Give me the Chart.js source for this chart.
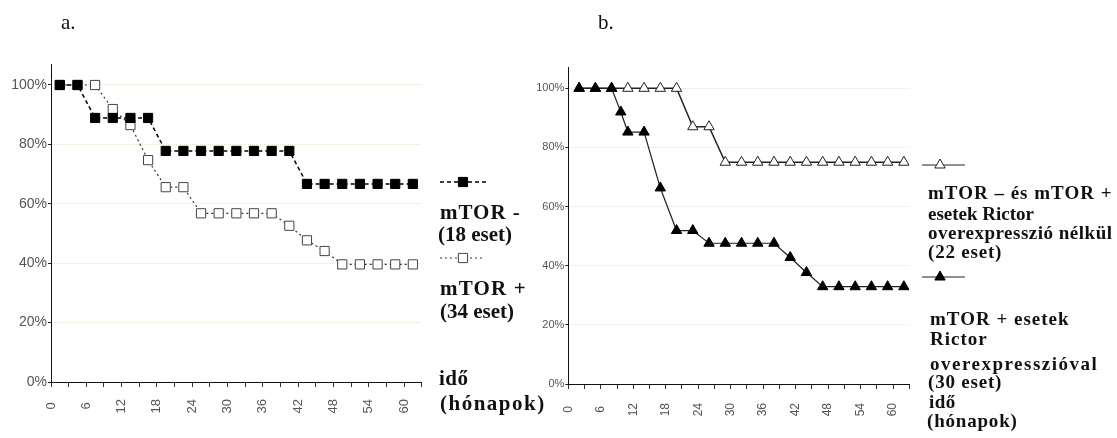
<!DOCTYPE html>
<html>
<head>
<meta charset="utf-8">
<script src="https://cdn.jsdelivr.net/npm/chart.js@4.4.1/dist/chart.umd.min.js"></script>
<style>
body { margin: 0; background: #fff; }
#wrap { position: relative; width: 1117px; height: 438px; overflow: hidden; font-family: "Liberation Serif", "Times New Roman", serif; color: #111; }
canvas { position: absolute; top: 0; }
.t { position: absolute; white-space: nowrap; line-height: 1; }
</style>
</head>
<body>
<div id="wrap">
  <canvas id="chartA" width="520" height="438" style="left:0"></canvas>
  <canvas id="chartB" width="597" height="438" style="left:520px"></canvas>
</div>
<script>
// --- adatok (a.) ---
const monthsA = [1.5, 4.5, 7.5, 10.5, 13.5, 16.5, 19.5, 22.5, 25.5, 28.5, 31.5, 34.5, 37.5, 40.5, 43.5, 46.5, 49.5, 52.5, 55.5, 58.5, 61.5];
const mtorNeg = [100, 100, 88.9, 88.9, 88.9, 88.9, 77.8, 77.8, 77.8, 77.8, 77.8, 77.8, 77.8, 77.8, 66.7, 66.7, 66.7, 66.7, 66.7, 66.7, 66.7];
const mtorPos = [100, 100, 100, 91.9, 86.5, 74.7, 65.6, 65.6, 56.8, 56.8, 56.8, 56.8, 56.8, 52.6, 47.7, 44.1, 39.6, 39.6, 39.6, 39.6, 39.6];

// --- adatok (b.) ---
const monthsNoRictor = [2, 5, 8, 11, 14, 17, 20, 23, 26, 29, 32, 35, 38, 41, 44, 47, 50, 53, 56, 59, 62];
const noRictor = [100, 100, 100, 100, 100, 100, 100, 87, 87, 75, 75, 75, 75, 75, 75, 75, 75, 75, 75, 75, 75];
const monthsRictor = [2, 5, 8, 9.7, 11, 14, 17, 20, 23, 26, 29, 32, 35, 38, 41, 44, 47, 50, 53, 56, 59, 62];
const rictor = [100, 100, 100, 92, 85.2, 85.2, 66.3, 51.9, 51.9, 47.6, 47.6, 47.6, 47.6, 47.6, 42.8, 37.7, 32.9, 32.9, 32.9, 32.9, 32.9, 32.9];

// tengelyek
const xTicks = [0, 3, 6, 9, 12, 15, 18, 21, 24, 27, 30, 33, 36, 39, 42, 45, 48, 51, 54, 57, 60, 63];
const yTicks = [0, 20, 40, 60, 80, 100];

const pts = (xs, ys) => xs.map((x, i) => ({ x: x, y: ys[i] }));

// jelmagyarazat mintak (vonal + jelolo)
function drawMarker(ctx, ds, x, y) {
    const r = ds.pointRadius;
    ctx.fillStyle = ds.pointBackgroundColor;
    ctx.strokeStyle = ds.pointBorderColor;
    ctx.lineWidth = ds.pointBorderWidth;
    ctx.beginPath();
    if (ds.pointStyle === 'rect') {
        const s = r * Math.SQRT1_2;
        ctx.rect(x - s, y - s, 2 * s, 2 * s);
    } else {
        let a = 0;
        ctx.moveTo(x + Math.sin(a) * r, y - Math.cos(a) * r);
        a += 2 * Math.PI / 3;
        ctx.lineTo(x + Math.sin(a) * r, y - Math.cos(a) * r);
        a += 2 * Math.PI / 3;
        ctx.lineTo(x + Math.sin(a) * r, y - Math.cos(a) * r);
        ctx.closePath();
    }
    ctx.fill();
    ctx.stroke();
}

const legendSamples = {
    id: 'legendSamples',
    afterDraw(chart, args, opts) {
        const ctx = chart.ctx;
        (opts.items || []).forEach(it => {
            const ds = chart.data.datasets[it.ds];
            ctx.save();
            ctx.strokeStyle = ds.borderColor;
            ctx.lineWidth = it.lw || ds.borderWidth;
            ctx.setLineDash(ds.borderDash || []);
            ctx.beginPath();
            ctx.moveTo(it.x1, it.y);
            ctx.lineTo(it.x2, it.y);
            ctx.stroke();
            ctx.setLineDash([]);
            drawMarker(ctx, ds, it.mx, it.y);
            ctx.restore();
        });
    }
};

function makeOptions(c) {
    return {
        responsive: false,
        animation: false,
        layout: { padding: c.pad },
        plugins: {
            legend: { display: false },
            tooltip: { enabled: false },
            legendSamples: { items: c.samples }
        },
        scales: {
            x: {
                type: 'linear',
                min: 0,
                max: 63,
                afterBuildTicks: s => { s.ticks = xTicks.map(v => ({ value: v })); },
                afterFit: s => { s.height = c.xHeight; },
                border: { display: true, color: '#111', width: 1, dash: [1, 1] },
                grid: { drawOnChartArea: false, drawTicks: true, tickLength: 5, tickColor: '#333' },
                ticks: {
                    autoSkip: false,
                    minRotation: 90,
                    maxRotation: 90,
                    padding: c.xPad,
                    color: '#555',
                    font: { family: 'Liberation Sans', size: c.xFont },
                    callback: v => (v % 6 === 0 && v <= 60) ? (v < 10 ? v + '\u2005' : String(v)) : ''
                }
            },
            y: {
                min: 0,
                max: 107,
                afterBuildTicks: s => { s.ticks = yTicks.map(v => ({ value: v })); },
                afterFit: s => { s.width = c.yWidth; },
                border: { display: true, color: '#111', width: 1, dash: [1, 1] },
                grid: { color: '#e6e6d6', lineWidth: 1, drawTicks: true, tickLength: 3, tickColor: '#222' },
                ticks: {
                    padding: 1,
                    color: '#555',
                    font: { family: 'Liberation Sans', size: c.yFont },
                    callback: v => v + '%'
                }
            }
        }
    };
}

// a. diagram
new Chart(document.getElementById('chartA').getContext('2d'), {
    type: 'line',
    data: {
        datasets: [{
            label: 'mTOR -',
            data: pts(monthsA, mtorNeg),
            borderColor: '#000',
            borderWidth: 1.5,
            borderDash: [4, 3],
            pointStyle: 'rect',
            pointRadius: 6.5,
            pointBackgroundColor: '#000',
            pointBorderColor: '#000',
            pointBorderWidth: 1,
            tension: 0
        }, {
            label: 'mTOR +',
            data: pts(monthsA, mtorPos),
            borderColor: '#333',
            borderWidth: 1.2,
            borderDash: [2, 3],
            pointStyle: 'rect',
            pointRadius: 6.5,
            pointBackgroundColor: '#fff',
            pointBorderColor: '#444',
            pointBorderWidth: 1,
            tension: 0
        }]
    },
    options: makeOptions({
        yWidth: 51, xHeight: 56, yFont: 14, xFont: 13, xPad: 12,
        pad: { left: 0, right: 98.3, top: 64.2, bottom: 0 },
        samples: [
            { ds: 0, x1: 440, x2: 487, mx: 463, y: 182 },
            { ds: 1, x1: 440, x2: 482, mx: 463, y: 258 }
        ]
    }),
    plugins: [legendSamples]
});

// b. diagram
new Chart(document.getElementById('chartB').getContext('2d'), {
    type: 'line',
    data: {
        datasets: [{
            label: 'mTOR + esetek Rictor overexpresszióval',
            data: pts(monthsRictor, rictor),
            borderColor: '#222',
            borderWidth: 1.2,
            pointStyle: 'triangle',
            pointRadius: 6,
            pointBackgroundColor: '#000',
            pointBorderColor: '#000',
            pointBorderWidth: 1,
            tension: 0
        }, {
            label: 'mTOR – és mTOR + esetek Rictor overexpresszió nélkül',
            data: pts(monthsNoRictor, noRictor),
            borderColor: '#222',
            borderWidth: 1.5,
            pointStyle: 'triangle',
            pointRadius: 6,
            pointBackgroundColor: '#fff',
            pointBorderColor: '#222',
            pointBorderWidth: 1,
            tension: 0
        }]
    },
    options: makeOptions({
        yWidth: 48.3, xHeight: 54, yFont: 11, xFont: 12, xPad: 14,
        pad: { left: 0, right: 207.7, top: 67.6, bottom: 0 },
        samples: [
            { ds: 1, x1: 402, x2: 445, mx: 420, y: 165, lw: 1 },
            { ds: 0, x1: 402, x2: 445, mx: 420, y: 277, lw: 1 }
        ]
    }),
    plugins: [legendSamples]
});

// feliratok
const wrap = document.getElementById('wrap');
function label(text, x, base, size, weight, spacing) {
    const d = document.createElement('div');
    d.className = 't';
    d.textContent = text;
    d.style.left = x + 'px';
    d.style.top = (base - 0.8375 * size) + 'px';
    d.style.fontSize = size + 'px';
    d.style.fontWeight = weight;
    d.style.letterSpacing = spacing + 'px';
    wrap.appendChild(d);
}

label('a.', 61, 30, 21, 'normal', 0);
label('b.', 598, 30, 21, 'normal', 0);

label('mTOR -', 440, 220, 21, 'bold', 1);
label('(18 eset)', 438, 242, 21, 'bold', 0);
label('mTOR +', 440, 296, 21, 'bold', 1.2);
label('(34 eset)', 440, 319, 21, 'bold', 0);
label('idő', 439, 386, 21, 'bold', 0.5);
label('(hónapok)', 440, 411, 21, 'bold', 1.5);

label('mTOR – és mTOR +', 928, 199, 19, 'bold', 1);
label('esetek Rictor', 928, 220, 19, 'bold', 0);
label('overexpresszió nélkül', 928, 239, 19, 'bold', 0.5);
label('(22 eset)', 928, 258, 19, 'bold', 0.8);
label('mTOR + esetek', 930, 325, 19, 'bold', 1);
label('Rictor', 930, 345, 19, 'bold', 1);
label('overexpresszióval', 930, 370, 19, 'bold', 1.5);
label('(30 eset)', 928, 388, 19, 'bold', 0.8);
label('idő', 929, 408, 19, 'bold', 0.5);
label('(hónapok)', 927, 427, 19, 'bold', 0.8);
</script>
</body>
</html>
